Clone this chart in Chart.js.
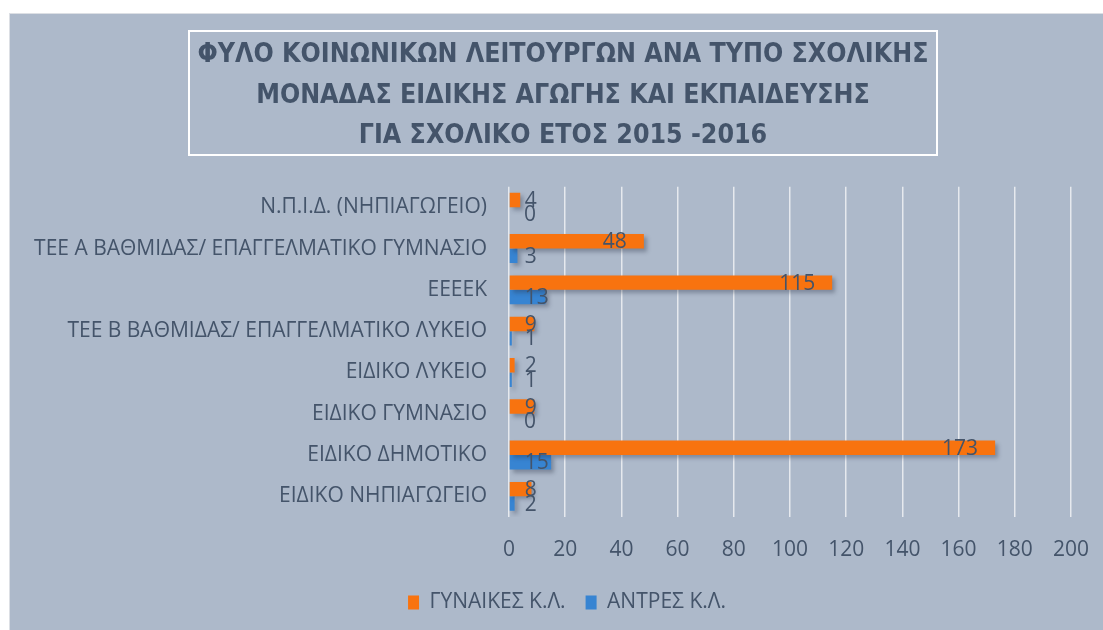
<!DOCTYPE html>
<html lang="el">
<head>
<meta charset="utf-8">
<title>Φύλο κοινωνικών λειτουργών</title>
<script src="https://cdn.jsdelivr.net/npm/chart.js@4.4.1/dist/chart.umd.min.js"></script>
<style>
    html, body { margin: 0; padding: 0; background: #ffffff; }
    #frame {
        position: absolute;
        left: 9px;
        top: 13px;
        width: 1093px;
        height: 616px;
        background: #adb9ca;
        border-top: 1px solid #dcdfe4;
        border-left: 1px solid #dcdfe4;
    }
</style>
</head>
<body>
<div id="frame"><canvas id="chart" width="1093" height="616"></canvas></div>
<script>
// Data - school unit types, top to bottom as in the picture
const categories = [
    'Ν.Π.Ι.Δ. (ΝΗΠΙΑΓΩΓΕΙΟ)',
    'ΤΕΕ Α ΒΑΘΜΙΔΑΣ/ ΕΠΑΓΓΕΛΜΑΤΙΚΟ ΓΥΜΝΑΣΙΟ',
    'ΕΕΕΕΚ',
    'ΤΕΕ Β ΒΑΘΜΙΔΑΣ/ ΕΠΑΓΓΕΛΜΑΤΙΚΟ ΛΥΚΕΙΟ',
    'ΕΙΔΙΚΟ ΛΥΚΕΙΟ',
    'ΕΙΔΙΚΟ ΓΥΜΝΑΣΙΟ',
    'ΕΙΔΙΚΟ ΔΗΜΟΤΙΚΟ',
    'ΕΙΔΙΚΟ ΝΗΠΙΑΓΩΓΕΙΟ'
];
const womenValues = [4, 48, 115, 9, 2, 9, 173, 8];
const menValues = [0, 3, 13, 1, 1, 0, 15, 2];
const seriesNames = ['ΓΥΝΑΙΚΕΣ Κ.Λ.', 'ΑΝΤΡΕΣ Κ.Λ.'];
const titleLines = [
    'ΦΥΛΟ ΚΟΙΝΩΝΙΚΩΝ ΛΕΙΤΟΥΡΓΩΝ ΑΝΑ ΤΥΠΟ ΣΧΟΛΙΚΗΣ',
    'ΜΟΝΑΔΑΣ ΕΙΔΙΚΗΣ ΑΓΩΓΗΣ ΚΑΙ ΕΚΠΑΙΔΕΥΣΗΣ',
    'ΓΙΑ ΣΧΟΛΙΚΟ ΕΤΟΣ 2015 -2016'
];
const axisMin = 0;
const axisMax = 200;
const axisStep = 20;

const textColor = '#44546a';
const labelFont = '"Open Sans", "Noto Sans", sans-serif';

// Move title and legend to where they sit in the original
const placementPlugin = {
    id: 'placement',
    afterLayout(chart) {
        const t = chart.titleBlock;
        const dt = 553 - (t.left + t.right) / 2;
        t.left += dt; t.right += dt;
        const l = chart.legend;
        const dl = 557 - (l.left + l.right) / 2;
        l.left += dl; l.right += dl;
    }
};

// White frame around the title
const titleBoxPlugin = {
    id: 'titleBox',
    afterDraw(chart) {
        const ctx = chart.ctx;
        const t = chart.titleBlock;
        const cx = (t.left + t.right) / 2;
        ctx.save();
        ctx.strokeStyle = '#ffffff';
        ctx.lineWidth = 2;
        ctx.strokeRect(cx - 374, 17, 748, 124);
        ctx.restore();
    }
};

// Soft shadow under the bars
const shadowPlugin = {
    id: 'barShadow',
    beforeDatasetsDraw(chart) {
        const ctx = chart.ctx;
        ctx.save();
        ctx.shadowColor = 'rgba(40, 50, 70, 0.35)';
        ctx.shadowOffsetX = 3;
        ctx.shadowOffsetY = 3;
        ctx.shadowBlur = 4;
    },
    afterDatasetsDraw(chart) {
        chart.ctx.restore();
    }
};

// Value labels near the end of each bar
const valueLabelPlugin = {
    id: 'valueLabels',
    afterDatasetsDraw(chart) {
        const ctx = chart.ctx;
        ctx.save();
        ctx.font = '21px ' + labelFont;
        ctx.fillStyle = textColor;
        ctx.textAlign = 'right';
        ctx.textBaseline = 'middle';
        chart.data.datasets.forEach(function(ds, i) {
            const meta = chart.getDatasetMeta(i);
            meta.data.forEach(function(bar, j) {
                const txt = String(ds.data[j]);
                const w = ctx.measureText(txt).width;
                const x = Math.max(bar.x - 17, bar.base + 15 + w);
                ctx.fillText(txt, x, bar.y + 1);
            });
        });
        ctx.restore();
    }
};

const ctx = document.getElementById('chart').getContext('2d');
new Chart(ctx, {
    type: 'bar',
    data: {
        labels: categories,
        datasets: [{
            label: seriesNames[0],
            data: womenValues,
            backgroundColor: '#f8730f',
            borderWidth: 0,
            categoryPercentage: 0.7,
            barPercentage: 1
        }, {
            label: seriesNames[1],
            data: menValues,
            backgroundColor: '#3784d2',
            borderWidth: 0,
            categoryPercentage: 0.7,
            barPercentage: 1
        }]
    },
    options: {
        indexAxis: 'y',
        responsive: false,
        animation: false,
        events: [],
        layout: { padding: { left: 0, right: 32, top: 0, bottom: 7 } },
        plugins: {
            title: {
                display: true,
                text: titleLines,
                color: textColor,
                font: { family: '"Liberation Sans Narrow", "DejaVu Sans Condensed", sans-serif', size: 26.5, weight: 'bold', lineHeight: 1.53 },
                padding: { top: 21, bottom: 30 }
            },
            legend: {
                position: 'bottom',
                labels: {
                    color: textColor,
                    font: { family: labelFont, size: 21 },
                    boxWidth: 11,
                    boxHeight: 14,
                    padding: 20
                }
            },
            tooltip: { enabled: false }
        },
        scales: {
            x: {
                min: axisMin,
                max: axisMax,
                ticks: {
                    stepSize: axisStep,
                    color: textColor,
                    font: { family: labelFont, size: 21 },
                    padding: 20
                },
                grid: { color: '#e6e9ee', lineWidth: 1.5, drawTicks: false },
                border: { display: false },
                afterFit(scale) {
                    scale.height = 55;
                    scale.paddingLeft = 0;
                    scale.paddingRight = 0;
                }
            },
            y: {
                ticks: {
                    color: textColor,
                    font: { family: labelFont, size: 21 },
                    padding: 14
                },
                grid: { display: false },
                border: { display: false },
                afterFit(scale) { scale.width = 499; }
            }
        }
    },
    plugins: [placementPlugin, titleBoxPlugin, shadowPlugin, valueLabelPlugin]
});
</script>
</body>
</html>
